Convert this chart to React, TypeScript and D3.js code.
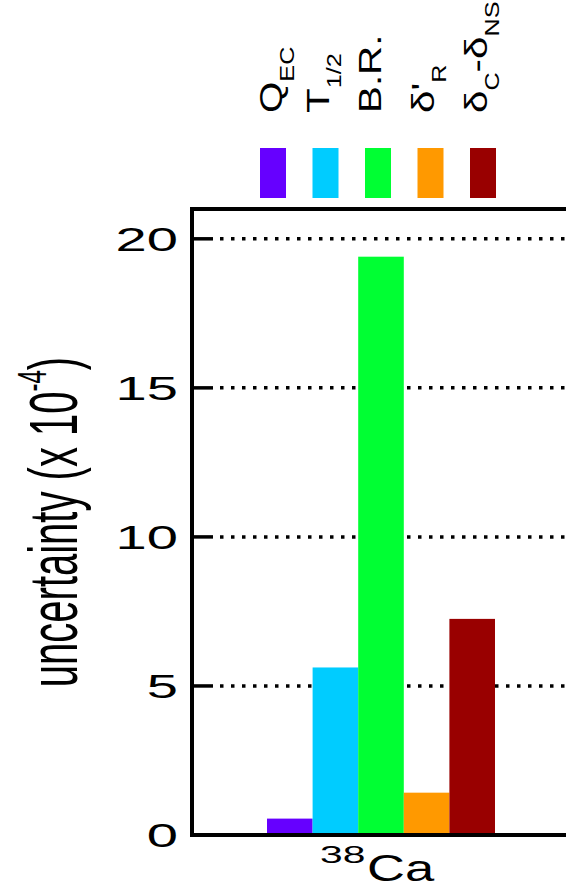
import React from "react";
import * as d3 from "d3";

const categories = ["38Ca"];
const seriesKeys = ["QEC", "T12", "BR", "dR", "dCdNS"];
const seriesValues = [0.55, 5.62, 19.4, 1.42, 7.25];
const seriesColors = ["#6600ff", "#00ccff", "#00ff33", "#ff9900", "#990000"];
const seriesLabels = [
  [{ t: "Q" }, { t: "EC", sub: true }],
  [{ t: "T" }, { t: "1/2", sub: true }],
  [{ t: "B.R." }],
  [{ t: "δ'" }, { t: "R", sub: true }],
  [{ t: "δ" }, { t: "C", sub: true }, { t: "-δ" }, { t: "NS", sub: true }],
];
const yTicks = [0, 5, 10, 15, 20];
const gridTicks = [5, 10, 15, 20];
const yDomain = [0, 21];

const FONT = "'Liberation Sans', Arial, Helvetica, sans-serif";

export default function App() {
  const W = 566;
  const H = 885;
  const left = 192;
  const right = 570;
  const top = 209;
  const bottom = 835;

  const y = d3.scaleLinear().domain(yDomain).range([bottom, top]);
  const x0 = d3.scaleBand().domain(categories).range([left, right]).paddingOuter(0.329);
  const x1 = d3.scaleBand().domain(seriesKeys).range([0, x0.bandwidth()]);
  const groupCenter = (x0(categories[0]) as number) + x0.bandwidth() / 2;

  const legendStep = 52.5;
  const legendW = 26;
  const legendCenters = seriesKeys.map((_, i) => groupCenter - 3 + (i - 2) * legendStep);
  const labelOffsets = [9, 3, 3, 3, 4];

  const subShift = 12;
  const legFs = 32;
  const subFs = 20;

  return (
    <svg
      width={W}
      height={H}
      style={{ position: "absolute", left: 0, top: 0, background: "#fff" }}
      fontFamily={FONT}
    >
      <rect x={0} y={0} width={W} height={H} fill="#fff" />
      {/* gridlines */}
      {gridTicks.map((t) => (
        <line
          key={"g" + t}
          x1={left + 28}
          x2={right}
          y1={y(t)}
          y2={y(t)}
          stroke="#000"
          strokeWidth={3.5}
          strokeDasharray="3.5 7.5"
        />
      ))}
      {/* bars */}
      {categories.map((c) =>
        seriesKeys.map((k, i) => (
          <rect
            key={c + k}
            x={(x0(c) as number) + (x1(k) as number)}
            y={y(seriesValues[i])}
            width={x1.bandwidth()}
            height={y(0) - y(seriesValues[i])}
            fill={seriesColors[i]}
          />
        ))
      )}
      {/* frame */}
      <rect
        x={left}
        y={top}
        width={right - left}
        height={bottom - top}
        fill="none"
        stroke="#000"
        strokeWidth={4}
      />
      {/* ticks */}
      {gridTicks.map((t) => (
        <line key={"t" + t} x1={left} x2={left + 21} y1={y(t)} y2={y(t)} stroke="#000" strokeWidth={3.5} />
      ))}
      {/* tick labels */}
      {yTicks.map((t) => (
        <text
          key={"l" + t}
          transform={`translate(${left - 14},${y(t) + 12}) scale(1.7,1)`}
          textAnchor="end"
          fontSize={33}
          fill="#000"
        >
          {t}
        </text>
      ))}
      {/* y axis label */}
      <text
        transform={`translate(77,${(top + bottom) / 2}) rotate(-90) scale(1,1.7)`}
        textAnchor="middle"
        fontSize={40}
        fill="#000"
      >
        uncertainty (x 10
        <tspan fontSize={24} dy={-18}>-4</tspan>
        <tspan dy={18}>)</tspan>
      </text>
      {/* x label */}
      <text
        transform={`translate(${groupCenter - 61},863) scale(1.7,1)`}
        fontSize={24}
        fill="#000"
      >
        38
      </text>
      <text
        transform={`translate(${groupCenter - 14},881) scale(1.42,1)`}
        fontSize={37}
        fill="#000"
      >
        Ca
      </text>
      {/* legend swatches */}
      {seriesKeys.map((k, i) => (
        <rect
          key={"s" + k}
          x={legendCenters[i] - legendW / 2}
          y={148}
          width={legendW}
          height={50}
          fill={seriesColors[i]}
        />
      ))}
      {/* legend labels */}
      {seriesLabels.map((parts, i) => {
        let cur = 0;
        return (
          <text
            key={"lt" + i}
            transform={`translate(${legendCenters[i] + labelOffsets[i]},113) rotate(-90) scale(1.26,1)`}
            fontSize={legFs}
            fill="#000"
          >
            {parts.map((p, j) => {
              const target = p.sub ? subShift : 0;
              const dy = target - cur;
              cur = target;
              return (
                <tspan key={j} dy={dy} fontSize={p.sub ? subFs : legFs}>
                  {p.t}
                </tspan>
              );
            })}
          </text>
        );
      })}
    </svg>
  );
}
